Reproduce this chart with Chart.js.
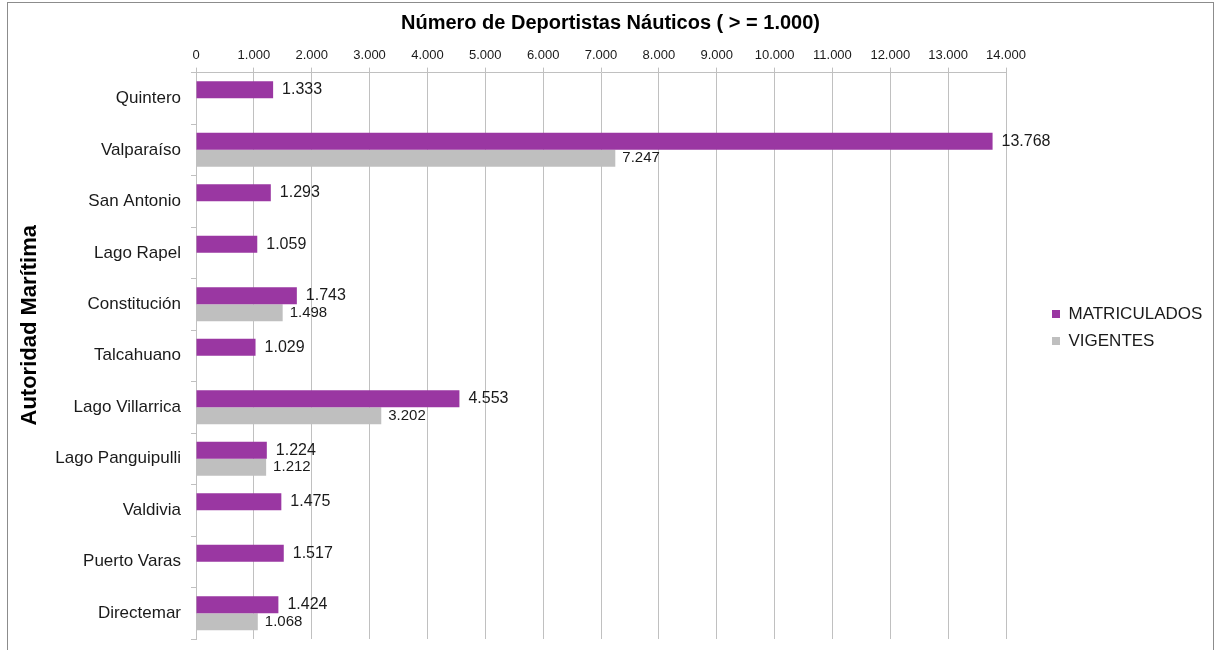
<!DOCTYPE html>
<html>
<head>
<meta charset="utf-8">
<script src="https://cdn.jsdelivr.net/npm/chart.js@4/dist/chart.umd.min.js"></script>
<style>
  html, body { margin: 0; padding: 0; background: #fff; }
  #wrap { position: relative; width: 1215px; height: 650px; }
  #frame { position: absolute; left: 7px; top: 2px; width: 1205px; height: 660px;
           border-left: 1px solid #8c8c8c; border-top: 1px solid #8c8c8c; border-right: 1px solid #8c8c8c;
           pointer-events: none; }
</style>
</head>
<body>
<div id="wrap">
  <canvas id="chart" width="1215" height="650"></canvas>
  <div id="frame"></div>
</div>
<script>
const categories = ['Quintero', 'Valparaíso', 'San Antonio', 'Lago Rapel', 'Constitución', 'Talcahuano',
  'Lago Villarrica', 'Lago Panguipulli', 'Valdivia', 'Puerto Varas', 'Directemar'];
const matriculados = [1333, 13768, 1293, 1059, 1743, 1029, 4553, 1224, 1475, 1517, 1424];
const vigentes = [null, 7247, null, null, 1498, null, 3202, 1212, null, null, 1068];
const xTicks = [0, 1000, 2000, 3000, 4000, 5000, 6000, 7000, 8000, 9000, 10000, 11000, 12000, 13000, 14000];

const FONT = "'Liberation Sans', Arial, sans-serif";
const fmt = v => String(v).replace(/\B(?=(\d{3})+(?!\d))/g, '.');

// values at the end of each bar
const barLabels = {
  id: 'barLabels',
  afterDatasetsDraw(chart) {
    const ctx = chart.ctx;
    ctx.save();
    ctx.fillStyle = '#1a1a1a';
    ctx.textBaseline = 'middle';
    ctx.textAlign = 'left';
    chart.data.datasets.forEach((ds, i) => {
      const meta = chart.getDatasetMeta(i);
      ctx.font = (i === 0 ? '16px ' : '15px ') + FONT;
      meta.data.forEach((bar, j) => {
        const v = ds.data[j];
        if (v == null) return;
        ctx.fillText(fmt(v), bar.x + (i === 0 ? 9 : 7), bar.y);
      });
    });
    ctx.restore();
  }
};

// legend keeps a wide column on the right, items sit a bit in from the plot
const legendPlace = {
  id: 'legendPlace',
  afterInit(chart) {
    const lg = chart.legend;
    const fit = lg.fit.bind(lg);
    lg.fit = () => { fit(); lg.width = 209; };
  },
  afterLayout(chart) {
    const lg = chart.legend;
    const dx = chart.chartArea.right + 36 - lg.left;
    const dy = 8;
    lg.left += dx; lg.right += dx;
    lg.top += dy; lg.bottom += dy;
  }
};

new Chart(document.getElementById('chart'), {
  type: 'bar',
  data: {
    labels: categories,
    datasets: [
      { label: 'MATRICULADOS', data: matriculados, backgroundColor: '#9a37a2', borderWidth: 0 },
      { label: 'VIGENTES', data: vigentes, backgroundColor: '#bfbfbf', borderWidth: 0 }
    ]
  },
  options: {
    indexAxis: 'y',
    responsive: false,
    animation: false,
    categoryPercentage: 0.66,
    barPercentage: 1.0,
    layout: { padding: { left: 6, right: 0, top: 0, bottom: 11 } },
    plugins: {
      title: {
        display: true,
        text: 'Número de Deportistas Náuticos ( > = 1.000)',
        color: '#000',
        font: { family: FONT, size: 20, weight: 'bold' },
        padding: { top: 11, bottom: 9 }
      },
      legend: {
        position: 'right',
        labels: {
          boxWidth: 8, boxHeight: 8, padding: 10,
          color: '#1a1a1a',
          font: { family: FONT, size: 17 }
        }
      },
      tooltip: { enabled: false }
    },
    scales: {
      x: {
        position: 'top',
        min: 0, max: 14000,
        afterBuildTicks: scale => { scale.ticks = xTicks.map(v => ({ value: v })); },
        ticks: { callback: v => fmt(v), color: '#1a1a1a', padding: 4, font: { family: FONT, size: 13 } },
        grid: { color: '#c0c0c0', tickLength: 5 },
        border: { color: '#c0c0c0' }
      },
      y: {
        afterFit: scale => { scale.width = 190; scale.paddingTop = 0; scale.paddingBottom = 0; },
        ticks: { color: '#1a1a1a', padding: 10, font: { family: FONT, size: 17 } },
        grid: { offset: true, drawOnChartArea: false, tickLength: 5, color: '#c0c0c0' },
        border: { color: '#c0c0c0' },
        title: {
          display: true,
          text: '\u00A0'.repeat(10) + 'Autoridad Marítima',
          color: '#000',
          font: { family: FONT, size: 22, weight: 'bold' },
          padding: { top: 11, bottom: 7 }
        }
      }
    }
  },
  plugins: [barLabels, legendPlace]
});
</script>
</body>
</html>
